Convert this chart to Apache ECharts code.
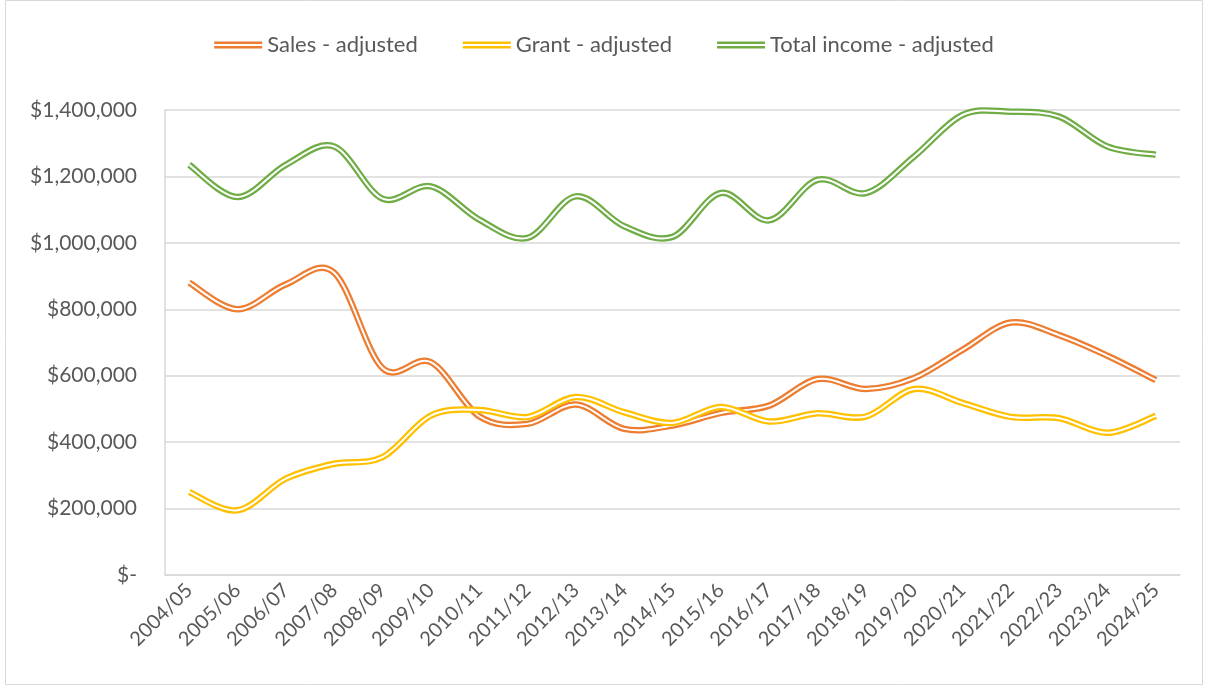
<!DOCTYPE html>
<html>
<head>
<meta charset="utf-8">
<script src="https://cdn.jsdelivr.net/npm/echarts@6/dist/echarts.min.js"></script>
<style>
  html, body { margin: 0; padding: 0; background: #fff; }
  #chart { width: 1208px; height: 686px; }
</style>
</head>
<body>
<div id="chart"></div>
<script>
var years = ['2004/05', '2005/06', '2006/07', '2007/08', '2008/09', '2009/10', '2010/11',
  '2011/12', '2012/13', '2013/14', '2014/15', '2015/16', '2016/17', '2017/18', '2018/19',
  '2019/20', '2020/21', '2021/22', '2022/23', '2023/24', '2024/25']

var sales = [880000, 800000, 875000, 910000, 623000, 641000, 478000, 455000, 513000, 440000,
  450000, 488000, 510000, 590000, 560000, 593000, 678000, 760000, 722000, 660000, 587000]

var grant = [250000, 195000, 290000, 335000, 355000, 480000, 497000, 476000, 536000, 490000,
  458000, 506000, 462000, 487000, 477000, 560000, 518000, 476000, 472000, 428000, 479000]

var total = [1235000, 1138000, 1235000, 1290000, 1133000, 1170000, 1070000, 1015000, 1140000, 1050000,
  1018000, 1150000, 1068000, 1190000, 1150000, 1260000, 1385000, 1395000, 1380000, 1290000, 1265000]

var names = ['Sales - adjusted', 'Grant - adjusted', 'Total income - adjusted']
var colors = ['#ED7D31', '#FFC000', '#70AD47']
var values = [sales, grant, total]

var dblIcon = 'path://M0,0 L48,0 L48,2.4 L0,2.4 Z M0,4.4 L48,4.4 L48,6.8 L0,6.8 Z'

function money (v) {
  if (v === 0) return '$-'
  return '$' + v.toLocaleString('en-US')
}

// excel style smoothing (catmull-rom -> bezier), built from the axis coords
function smoothPath (api, arr) {
  var pts = arr.map(function (v, i) { return api.coord([i, v]) })
  var d = 'M' + pts[0][0] + ',' + pts[0][1]
  for (var i = 0; i < pts.length - 1; i++) {
    var p0 = pts[Math.max(i - 1, 0)]
    var p1 = pts[i]
    var p2 = pts[i + 1]
    var p3 = pts[Math.min(i + 2, pts.length - 1)]
    var c1x = p1[0] + (p2[0] - p0[0]) / 6
    var c1y = p1[1] + (p2[1] - p0[1]) / 6
    var c2x = p2[0] - (p3[0] - p1[0]) / 6
    var c2y = p2[1] - (p3[1] - p1[1]) / 6
    d += ' C' + c1x + ',' + c1y + ' ' + c2x + ',' + c2y + ' ' + p2[0] + ',' + p2[1]
  }
  return d
}

var series = names.map(function (n, k) {
  return {
    name: n,
    type: 'custom',
    data: values[k].map(function (v, i) { return [i, v] }),
    encode: { x: 0, y: 1 },
    itemStyle: { color: colors[k] },
    renderItem: function (params, api) {
      if (params.dataIndex !== 0) return
      var d = smoothPath(api, values[k])
      // double line: thick coloured stroke, thin white stroke on top
      return {
        type: 'group',
        children: [
          { type: 'path', shape: { pathData: d }, style: { fill: 'none', stroke: colors[k], lineWidth: 6.5 } },
          { type: 'path', shape: { pathData: d }, style: { fill: 'none', stroke: '#ffffff', lineWidth: 2 } }
        ]
      }
    }
  }
})

var chart = echarts.init(document.getElementById('chart'))
chart.setOption({
  animation: false,
  textStyle: { fontFamily: 'Lato' },
  graphic: [{
    type: 'rect',
    shape: { x: 5.5, y: 0.5, width: 1197, height: 684 },
    style: { fill: 'none', stroke: '#d9d9d9', lineWidth: 1 }
  }],
  legend: {
    data: names.map(function (n) { return { name: n, icon: dblIcon } }),
    top: 29,
    left: 'center',
    itemWidth: 48,
    itemHeight: 7,
    itemGap: 45,
    textStyle: { color: '#595959', fontSize: 22, fontFamily: 'Lato' }
  },
  grid: { left: 165, right: 28, top: 110, bottom: 111 },
  xAxis: {
    type: 'category',
    data: years,
    boundaryGap: true,
    axisLine: { lineStyle: { color: '#d9d9d9', width: 1.5 } },
    axisTick: { show: false },
    axisLabel: { rotate: 45, color: '#595959', fontSize: 20, margin: 12, interval: 0 }
  },
  yAxis: {
    type: 'value',
    min: 0,
    max: 1400000,
    interval: 200000,
    axisLine: { show: true, lineStyle: { color: '#d9d9d9', width: 1.5 } },
    axisTick: { show: false },
    splitLine: { lineStyle: { color: '#d9d9d9', width: 1.5 } },
    axisLabel: { color: '#595959', fontSize: 21, margin: 28, formatter: money }
  },
  series: series
})
</script>
</body>
</html>
